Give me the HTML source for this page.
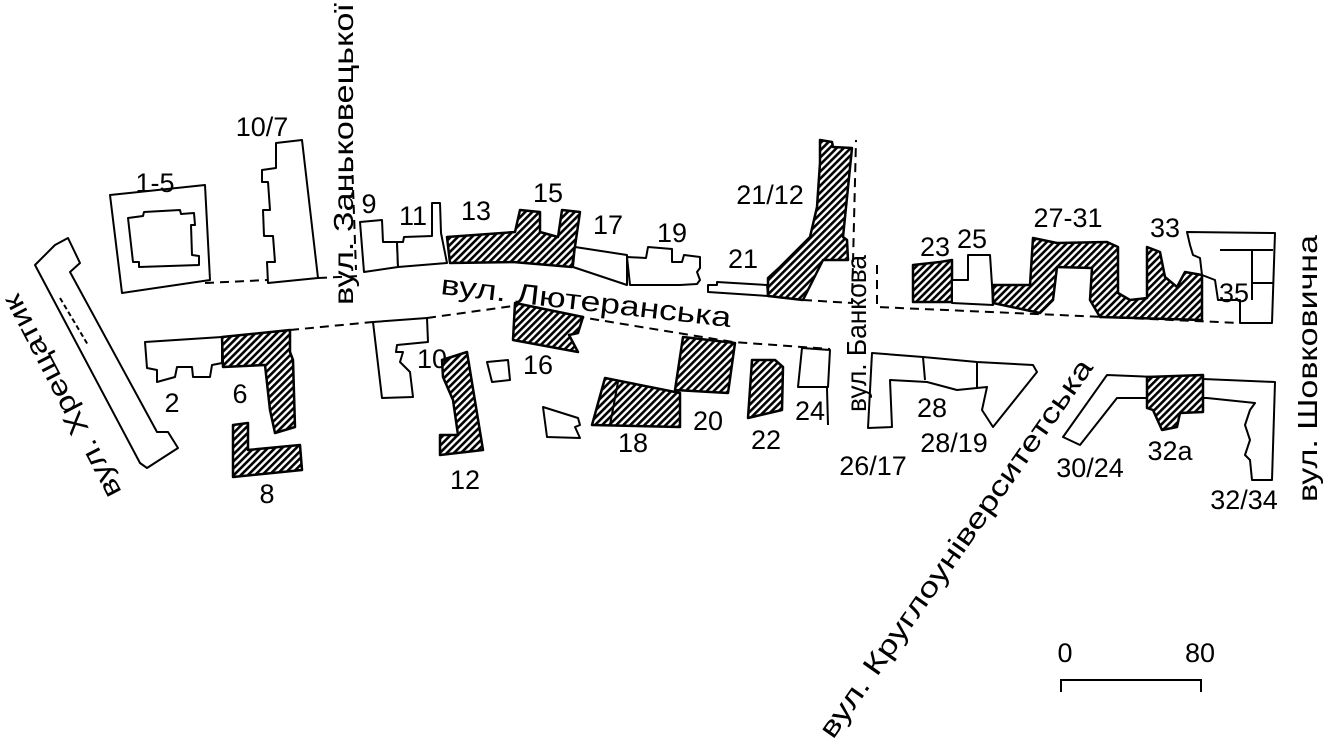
<!DOCTYPE html>
<html><head><meta charset="utf-8"><style>
html,body{margin:0;padding:0;background:#fff;}
svg{display:block;}
text{font-family:"Liberation Sans",sans-serif;fill:#000;}
.n{font-size:27px;text-anchor:middle;}
.o{fill:#fff;stroke:#000;stroke-width:2;stroke-linejoin:round;}
.h{fill:url(#hatch);stroke:#000;stroke-width:2.5;stroke-linejoin:round;}
.d{fill:none;stroke:#000;stroke-width:2;stroke-dasharray:9,6;}
.l{fill:none;stroke:#000;stroke-width:2;}
.s{font-size:28px;}
</style></head><body>
<svg width="1326" height="747" viewBox="0 0 1326 747" xmlns="http://www.w3.org/2000/svg">
<defs>
<pattern id="hatch" patternUnits="userSpaceOnUse" width="5" height="5" patternTransform="rotate(45)">
<rect width="5" height="5" fill="#fff"/>
<rect width="2.6" height="5" fill="#000"/>
</pattern>
</defs>

<path class="d" d="M205,283 L268,280"/>
<path class="d" d="M318,278 L360,276"/>
<path class="d" d="M352,160 L356,270"/>
<path class="d" d="M290,330 L373,322"/>
<path class="d" d="M427,318 L513,306 L733,342 L830,349"/>
<path class="d" d="M803,300 L852,303 L856,140"/>
<path class="d" d="M877,265 L877,307 L1240,323"/>
<path class="l" d="M826,352 L828,425"/>

<polygon class="o" points="35,265 55,245 68,238 80,263 70,272 157,432 168,432 178,448 147,468 140,463"/>
<path class="l" d="M60,298 L88,345" stroke-dasharray="5,3"/>

<polygon class="o" points="110,195 205,185 210,280 122,293"/>
<polygon class="o" points="128,218 143,216 144,212 180,210 181,214 194,213 195,225 191,225 192,255 199,256 199,265 139,267 139,262 133,262"/>
<polygon class="o" points="276,143 302,140 318,278 268,283 267,262 275,262 273,236 264,236 263,210 270,210 268,182 262,182 262,170 276,168"/>

<polygon class="o" points="145,342 222,337 222,363 212,365 210,377 193,377 192,367 177,367 175,377 157,382 157,370 147,368"/>
<polygon class="h" points="222,337 290,330 290,352 293,360 295,427 275,433 270,410 267,383 265,365 223,367"/>
<polygon class="h" points="233,425 248,423 248,450 300,445 302,470 233,477"/>

<polygon class="o" points="360,222 382,220 383,242 397,242 398,267 364,272"/>
<polygon class="o" points="397,242 403,242 404,237 432,236 432,203 440,203 441,233 447,263 398,267"/>
<polygon class="h" points="447,237 515,232 520,210 540,212 540,232 558,237 562,210 580,212 572,267 513,262 450,263"/>
<polygon class="o" points="575,247 627,255 627,285 573,267"/>
<polygon class="o" points="627,257 646,258 648,247 672,249 672,262 682,262 684,255 700,257 700,268 697,272 700,280 697,284 680,285 630,285"/>
<polygon class="o" points="708,285 717,285 717,282 767,285 768,296 708,292"/>
<polygon class="h" points="820,140 832,142 833,147 852,148 843,237 847,240 848,260 823,260 803,300 768,296 768,278 780,267 810,237 817,207 820,163"/>

<polygon class="o" points="373,322 427,318 428,342 397,345 396,352 403,352 400,362 410,372 413,397 382,398"/>
<polygon class="h" points="442,360 467,352 483,450 440,455 440,435 458,435 453,400 443,377"/>
<polygon class="o" points="487,362 508,360 510,380 492,382"/>
<polygon class="h" points="515,303 583,317 578,333 569,335 578,352 513,340"/>
<polygon class="o" points="543,407 578,418 580,425 575,427 580,438 547,437"/>
<polygon class="h" points="605,378 680,393 680,427 592,425"/>
<path class="l" d="M618,382 L610,425"/>
<polygon class="h" points="683,337 735,343 728,393 675,390"/>
<polygon class="h" points="752,360 775,360 783,367 782,410 748,418"/>
<polygon class="o" points="802,348 830,350 828,387 798,387"/>

<polygon class="h" points="913,265 940,262 952,260 952,302 913,302"/>
<polygon class="o" points="952,280 968,280 968,255 990,255 992,285 993,305 952,303"/>
<polygon class="h" points="993,285 1030,285 1033,238 1057,243 1107,242 1118,247 1118,293 1130,300 1147,298 1147,247 1160,252 1165,277 1177,287 1185,272 1202,275 1202,320 1100,317 1090,300 1092,268 1057,267 1053,300 1040,313 993,303"/>
<polygon class="o" points="1187,232 1275,233 1272,323 1240,323 1240,300 1218,300 1215,280 1202,275 1200,258 1193,255 1190,245"/>
<path class="l" d="M1220,250 L1273,250 M1252,250 L1252,300 M1252,283 L1273,283"/>

<polygon class="o" points="872,353 923,357 977,362 1033,365 1037,372 993,427 982,410 987,387 957,390 927,382 890,380 892,427 868,428"/>
<path class="l" d="M923,357 L925,380 M977,362 L977,388"/>
<polygon class="o" points="1107,375 1275,382 1272,480 1252,480 1250,460 1245,455 1250,440 1245,425 1250,410 1255,403 1207,398 1117,398 1080,445 1063,437"/>
<polygon class="h" points="1147,377 1203,375 1203,412 1180,413 1177,427 1162,430 1153,410 1147,408"/>

<path class="l" d="M1061,692 L1061,680 L1201,680 L1201,692" stroke-width="3"/>
<text class="n" x="1065" y="662">0</text>
<text class="n" x="1200" y="662">80</text>

<text class="n" x="155" y="192">1-5</text>
<text class="n" x="262" y="136">10/7</text>
<text class="n" x="369" y="213">9</text>
<text class="n" x="413" y="225">11</text>
<text class="n" x="476" y="220">13</text>
<text class="n" x="548" y="202">15</text>
<text class="n" x="608" y="234">17</text>
<text class="n" x="672" y="242">19</text>
<text class="n" x="743" y="268">21</text>
<text class="n" x="770" y="204">21/12</text>
<text class="n" x="935" y="256">23</text>
<text class="n" x="972" y="248">25</text>
<text class="n" x="1068" y="227">27-31</text>
<text class="n" x="1165" y="237">33</text>
<text class="n" x="1234" y="302">35</text>
<text class="n" x="172" y="412">2</text>
<text class="n" x="240" y="403">6</text>
<text class="n" x="267" y="503">8</text>
<text class="n" x="432" y="368">10</text>
<text class="n" x="465" y="489">12</text>
<text class="n" x="538" y="374">16</text>
<text class="n" x="633" y="452">18</text>
<text class="n" x="708" y="430">20</text>
<text class="n" x="766" y="449">22</text>
<text class="n" x="810" y="420">24</text>
<text class="n" x="873" y="475">26/17</text>
<text class="n" x="932" y="417">28</text>
<text class="n" x="954" y="452">28/19</text>
<text class="n" x="1090" y="477">30/24</text>
<text class="n" x="1170" y="460">32a</text>
<text class="n" x="1244" y="509">32/34</text>

<text class="s" transform="translate(122,492) rotate(-117.5)" textLength="225" lengthAdjust="spacingAndGlyphs">вул. Хрещатик</text>
<text class="s" transform="translate(353,305) rotate(-90)" textLength="302" lengthAdjust="spacingAndGlyphs">вул. Заньковецької</text>
<text class="s" transform="translate(440,294) rotate(6.5)" textLength="292" lengthAdjust="spacingAndGlyphs">вул. Лютеранська</text>
<text class="s" transform="translate(866,412) rotate(-90)" textLength="157" lengthAdjust="spacingAndGlyphs">вул. Банкова</text>
<text class="s" transform="translate(1317,502) rotate(-90)" textLength="267" lengthAdjust="spacingAndGlyphs">вул. Шовковична</text>
<text class="s" transform="translate(833,740) rotate(-55)" textLength="455" lengthAdjust="spacingAndGlyphs">вул. Круглоуніверситетська</text>
</svg>
</body></html>
